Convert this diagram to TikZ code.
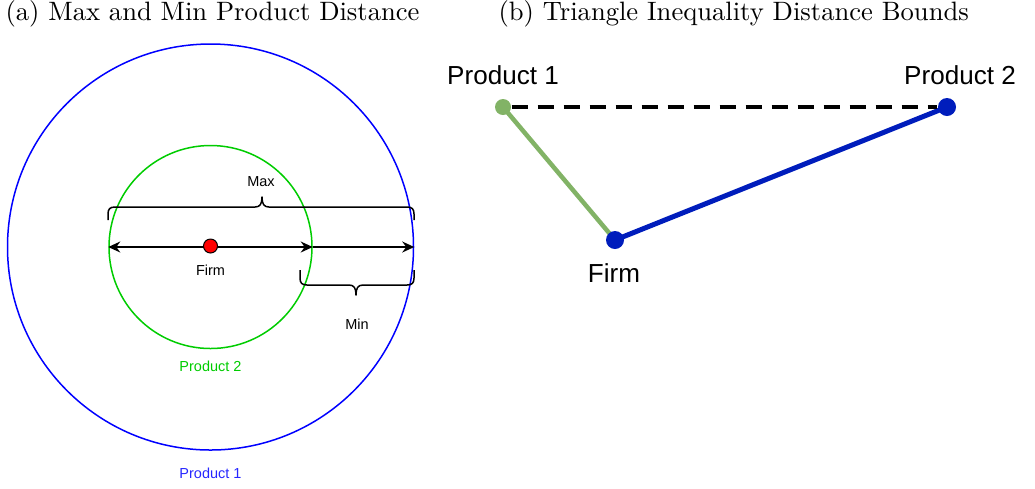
\documentclass[tikz,border=0pt]{standalone}
\usepackage{fontspec}
\newfontfamily\labfont{Liberation Sans}
\usetikzlibrary{arrows.meta}
\newlength\pxl
\setlength\pxl{0.376pt}
\definecolor{pgreen}{RGB}{0,204,0}
\definecolor{pblue}{RGB}{0,0,255}
\definecolor{dgreen}{RGB}{130,179,102}
\definecolor{dblue}{RGB}{0,29,188}
\tikzset{
  >={Stealth[length=4.5pt, width=4.1pt]},
  caption/.style={anchor=base west, inner sep=0pt, font=\fontsize{10}{12}\selectfont},
  smalllab/.style={inner sep=0pt, font=\labfont\fontsize{5.45}{6.5}\selectfont},
  biglab/.style={inner sep=0pt, font=\labfont\fontsize{9.8}{11.5}\selectfont},
  ring/.style={circle, draw=#1, line width=1.5\pxl, inner sep=0pt},
  dot/.style={circle, fill=#1, inner sep=0pt, minimum size=18\pxl},
  bracestyle/.style={line width=1.5\pxl, line join=round},
  arr/.style={line width=2\pxl},
}
\begin{document}
\begin{tikzpicture}[x=1\pxl, y=-1\pxl]
\useasboundingbox (0,0) rectangle (1035,488);
% captions
\node[caption] (capa) at (5,20) {(a) Max and Min Product Distance};
\node[caption] (capb) at (498,20) {(b) Triangle Inequality Distance Bounds};
% (a)
\node[ring=pblue, minimum size=406\pxl] (outer) at (210.5,247) {};
\node[ring=pgreen, minimum size=203\pxl] (inner) at (210.5,247) {};
\draw[arr, <->] (inner.west) -- (inner.east);
\draw[arr, ->] (inner.east) -- (outer.east);
\node[circle, fill=red, draw=black, line width=1\pxl, inner sep=0pt, minimum size=14\pxl] (firma) at (210.5,246) {};
\node[smalllab] (firmlab) at (210.5,270) {Firm};
% Max brace
\coordinate (maxl) at (108,220);
\coordinate (maxr) at (414,220);
\coordinate (maxtip) at (262,197);
\draw[bracestyle] (maxl) -- (108,214) .. controls (108,209) and (110,207) .. (115,207)
  -- (255,207) .. controls (260,207) and (262,204) .. (maxtip)
  .. controls (262,204) and (264,207) .. (269,207)
  -- (407,207) .. controls (412,207) and (414,209) .. (414,214) -- (maxr);
\node[smalllab] (maxlab) at (261,182) {Max};
% Min brace
\coordinate (minl) at (300,270);
\coordinate (minr) at (414,270);
\coordinate (mintip) at (356,295);
\draw[bracestyle] (minl) -- (300,278) .. controls (300,283) and (302,285) .. (307,285)
  -- (349,285) .. controls (354,285) and (356,288) .. (mintip)
  .. controls (356,288) and (358,285) .. (363,285)
  -- (407,285) .. controls (412,285) and (414,283) .. (414,278) -- (minr);
\node[smalllab] (minlab) at (357,324) {Min};
\node[smalllab, text=pgreen] (p2lab) at (210.5,366) {Product 2};
\node[smalllab, text=pblue!85!white] (p1lab) at (210.5,473) {Product 1};
% (b)
\coordinate (P1c) at (503,107);
\coordinate (P2c) at (947,107);
\coordinate (Fc) at (615,240);
\draw[dgreen, line width=4.5\pxl] (P1c) -- (Fc);
\draw[dblue, line width=5\pxl] (Fc) -- (P2c);
\node[dot=dgreen, minimum size=16\pxl] (P1) at (P1c) {};
\node[dot=dblue] (P2) at (P2c) {};
\node[dot=dblue] (F) at (Fc) {};
\draw[black, line width=4\pxl, dash pattern=on 16\pxl off 10\pxl] (P1.east) -- (P2.west);
\node[biglab] (P1lab) at (503,75) {Product 1};
\node[biglab] (P2lab) at (960,75) {Product 2};
\node[biglab] (Flab) at (614,273) {Firm};
\end{tikzpicture}
\end{document}
